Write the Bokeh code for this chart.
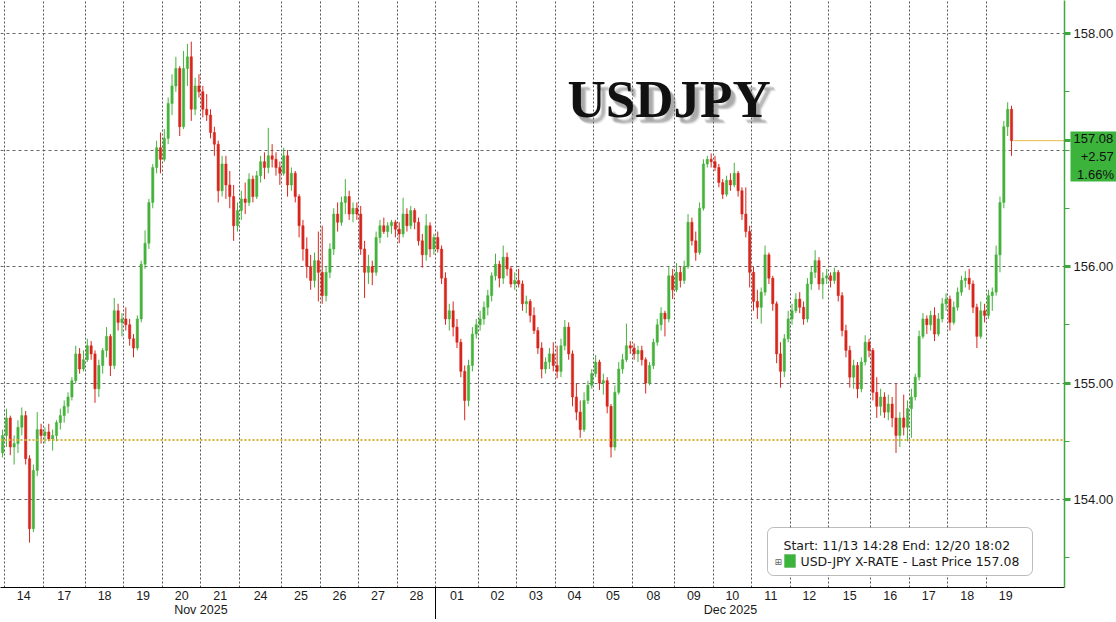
import numpy as np
from bokeh.plotting import figure
from bokeh.models import (ColumnDataSource, Range1d, FixedTicker, LinearAxis, Span,
                          Label, BoxAnnotation, PrintfTickFormatter, Grid)
from bokeh.embed import file_html
from bokeh.resources import INLINE

# ---------------- data (USD-JPY intraday bars, one row per trading day) ----------------
day_labels = ["13", "14", "17", "18", "19", "20", "21", "24", "25", "26", "27", "28",
              "01", "02", "03", "04", "05", "08", "09", "10", "11", "12", "15", "16", "17", "18", "19"]
day_month = ["Nov"] * 12 + ["Dec"] * 15
bars_in_day = [1, 10, 11, 10, 10, 10, 10, 11, 10, 10, 10, 10,
               11, 10, 10, 10, 10, 11, 10, 10, 10, 10, 11, 10, 10, 10, 7]
day_slot_bars = [10, 10, 11, 10, 10, 10, 10, 11, 10, 10, 10, 10,
                 11, 10, 10, 10, 10, 11, 10, 10, 10, 10, 11, 10, 10, 10, 10]
month_names = {"Nov": "Nov 2025", "Dec": "Dec 2025"}

opens = [
    154.40,
    154.55, 154.70, 154.45, 154.48, 154.62, 154.72, 154.35, 153.75, 154.25, 154.60,
    154.55, 154.58, 154.52, 154.55, 154.66, 154.72, 154.80, 154.88, 155.02, 155.25, 155.12,
    155.20, 155.32, 155.25, 154.95, 155.15, 155.28, 155.40, 155.15, 155.62, 155.52,
    155.55, 155.50, 155.38, 155.30, 155.55, 156.02, 156.20, 156.55, 156.85, 157.02,
    156.92, 157.10, 157.40, 157.55, 157.70, 157.20, 157.70, 157.80, 157.35, 157.55,
    157.50, 157.35, 157.30, 157.15, 157.05, 156.65, 156.88, 156.70, 156.60, 156.35,
    156.48, 156.58, 156.55, 156.75, 156.60, 156.78, 156.90, 156.85, 156.95, 156.92, 156.85,
    156.80, 156.95, 156.70, 156.80, 156.60, 156.35, 156.15, 156.00, 155.88, 156.05,
    155.95, 155.75, 155.95, 156.15, 156.45, 156.38, 156.55, 156.60, 156.45, 156.50,
    156.45, 156.15, 155.95, 156.00, 155.95, 156.25, 156.35, 156.30, 156.35, 156.38,
    156.32, 156.28, 156.45, 156.35, 156.48, 156.38, 156.22, 156.10, 156.35, 156.15,
    156.25, 156.15, 155.90, 155.55, 155.62, 155.48, 155.35, 155.10, 154.85, 155.15, 155.42,
    155.50, 155.55, 155.65, 155.75, 155.92, 156.02, 155.90, 156.08, 155.98, 155.85,
    155.88, 155.85, 155.68, 155.70, 155.58, 155.45, 155.30, 155.12, 155.18, 155.25,
    155.15, 155.10, 155.32, 155.48, 155.25, 154.88, 154.75, 154.60, 154.85, 154.98,
    155.08, 155.18, 155.00, 155.02, 154.80, 154.45, 154.92, 155.12, 155.20, 155.32,
    155.30, 155.25, 155.28, 155.20, 155.00, 155.15, 155.35, 155.50, 155.60, 155.55, 155.92,
    155.80, 155.95, 155.88, 156.00, 156.38, 156.22, 156.12, 156.50, 156.88, 156.92,
    156.90, 156.85, 156.72, 156.62, 156.74, 156.70, 156.80, 156.65, 156.45, 156.30,
    155.95, 155.70, 155.65, 155.78, 156.10, 155.90, 155.68, 155.25, 155.10, 155.38,
    155.55, 155.62, 155.72, 155.65, 155.55, 155.85, 155.95, 156.05, 155.85, 155.90,
    155.92, 155.88, 155.95, 155.75, 155.45, 155.28, 155.05, 155.15, 154.95, 155.18, 155.35,
    155.28, 154.92, 154.80, 154.88, 154.75, 154.82, 154.70, 154.55, 154.70, 154.62,
    154.78, 154.88, 155.05, 155.40, 155.55, 155.50, 155.58, 155.42, 155.55, 155.68,
    155.72, 155.52, 155.65, 155.78, 155.88, 155.90, 155.85, 155.65, 155.40, 155.62,
    155.58, 155.75, 155.78, 156.10, 156.55, 157.20, 157.35,
]
highs = [
    154.60,
    154.78, 154.72, 154.55, 154.68, 154.79, 154.76, 154.38, 154.30, 154.75, 154.65,
    154.62, 154.65, 154.60, 154.68, 154.78, 154.85, 154.92, 155.05, 155.32, 155.30, 155.28,
    155.38, 155.36, 155.28, 155.20, 155.30, 155.48, 155.42, 155.73, 155.68, 155.60,
    155.65, 155.55, 155.42, 155.58, 156.05, 156.31, 156.58, 156.88, 157.08, 157.15,
    157.18, 157.45, 157.65, 157.80, 157.72, 157.85, 157.91, 157.93, 157.62, 157.65,
    157.55, 157.48, 157.35, 157.20, 157.08, 156.95, 156.95, 156.82, 156.70, 156.55,
    156.65, 156.72, 156.80, 156.78, 156.82, 156.95, 156.98, 157.19, 157.05, 156.98, 156.90,
    157.02, 157.00, 156.85, 156.82, 156.62, 156.40, 156.25, 156.10, 156.12, 156.30,
    156.35, 156.00, 156.20, 156.50, 156.55, 156.60, 156.75, 156.65, 156.55, 156.55,
    156.52, 156.22, 156.10, 156.05, 156.30, 156.40, 156.42, 156.38, 156.40, 156.40,
    156.38, 156.59, 156.50, 156.52, 156.50, 156.42, 156.28, 156.45, 156.38, 156.28,
    156.30, 156.18, 155.95, 155.68, 155.70, 155.55, 155.38, 155.15, 155.20, 155.48, 155.55,
    155.62, 155.70, 155.80, 155.95, 156.11, 156.05, 156.18, 156.12, 156.00, 155.95,
    155.98, 155.88, 155.75, 155.72, 155.65, 155.48, 155.35, 155.22, 155.30, 155.35,
    155.32, 155.38, 155.54, 155.52, 155.28, 155.00, 154.85, 154.92, 155.02, 155.12,
    155.24, 155.20, 155.08, 155.05, 154.82, 154.98, 155.18, 155.25, 155.51, 155.36,
    155.34, 155.32, 155.32, 155.22, 155.18, 155.38, 155.55, 155.65, 155.62, 156.00, 155.98,
    156.03, 156.00, 156.05, 156.45, 156.42, 156.30, 156.55, 156.92, 156.95, 156.97,
    156.95, 156.88, 156.75, 156.78, 156.80, 156.89, 156.82, 156.68, 156.68, 156.35,
    156.00, 155.80, 155.82, 156.18, 156.12, 155.92, 155.70, 155.35, 155.42, 155.62,
    155.68, 155.77, 155.78, 155.70, 155.90, 156.00, 156.14, 156.08, 155.95, 155.98,
    155.95, 155.99, 155.97, 155.78, 155.50, 155.32, 155.20, 155.18, 155.22, 155.41, 155.38,
    155.30, 155.05, 154.95, 154.92, 154.90, 154.88, 155.00, 154.75, 154.90, 154.85,
    154.95, 155.08, 155.45, 155.60, 155.58, 155.62, 155.65, 155.60, 155.73, 155.77,
    155.75, 155.70, 155.82, 155.92, 155.96, 155.98, 155.88, 155.68, 155.70, 155.68,
    155.80, 155.82, 156.18, 156.60, 157.25, 157.41, 157.38,
]
lows = [
    154.36,
    154.45, 154.38, 154.30, 154.40, 154.55, 154.30, 153.63, 153.72, 154.20, 154.48,
    154.48, 154.50, 154.42, 154.50, 154.60, 154.66, 154.74, 154.85, 155.00, 155.08, 155.10,
    155.18, 155.20, 154.83, 154.88, 155.08, 155.22, 155.06, 155.12, 155.45, 155.40,
    155.45, 155.32, 155.22, 155.28, 155.52, 155.98, 156.15, 156.50, 156.80, 156.80,
    156.90, 157.05, 157.30, 157.50, 157.12, 157.18, 157.55, 157.25, 157.30, 157.45,
    157.28, 157.25, 157.10, 156.95, 156.55, 156.60, 156.58, 156.50, 156.22, 156.30,
    156.40, 156.45, 156.52, 156.55, 156.58, 156.72, 156.75, 156.80, 156.85, 156.78, 156.70,
    156.78, 156.60, 156.65, 156.55, 156.25, 156.05, 155.90, 155.80, 155.82, 155.70,
    155.68, 155.70, 155.90, 156.10, 156.30, 156.35, 156.45, 156.40, 156.38, 156.40,
    156.10, 155.73, 155.85, 155.84, 155.92, 156.20, 156.28, 156.25, 156.28, 156.25,
    156.20, 156.25, 156.30, 156.32, 156.32, 156.18, 155.99, 156.05, 156.08, 156.10,
    156.12, 155.85, 155.50, 155.45, 155.40, 155.30, 155.05, 154.68, 154.80, 155.10, 155.38,
    155.45, 155.50, 155.58, 155.70, 155.88, 155.82, 155.85, 155.92, 155.82, 155.80,
    155.82, 155.62, 155.60, 155.52, 155.42, 155.25, 155.04, 155.08, 155.12, 155.10,
    155.04, 155.05, 155.28, 155.20, 154.80, 154.68, 154.53, 154.58, 154.82, 154.95,
    155.05, 154.94, 154.90, 154.74, 154.36, 154.42, 154.90, 155.08, 155.18, 155.25,
    155.20, 155.18, 155.15, 154.91, 154.98, 155.12, 155.32, 155.45, 155.40, 155.52, 155.72,
    155.78, 155.82, 155.85, 155.98, 156.18, 156.05, 156.10, 156.48, 156.85, 156.85,
    156.82, 156.68, 156.58, 156.60, 156.65, 156.68, 156.60, 156.40, 156.25, 155.82,
    155.62, 155.55, 155.51, 155.75, 155.85, 155.62, 155.17, 154.96, 155.05, 155.35,
    155.50, 155.60, 155.60, 155.50, 155.52, 155.80, 155.90, 155.80, 155.72, 155.85,
    155.82, 155.85, 155.70, 155.40, 155.22, 154.96, 154.95, 154.87, 154.92, 155.15, 155.22,
    154.85, 154.70, 154.72, 154.70, 154.68, 154.62, 154.40, 154.45, 154.55, 154.50,
    154.53, 154.85, 155.02, 155.38, 155.42, 155.45, 155.36, 155.40, 155.52, 155.62,
    155.45, 155.50, 155.62, 155.75, 155.82, 155.80, 155.60, 155.30, 155.38, 155.52,
    155.55, 155.62, 155.75, 155.95, 156.50, 157.12, 156.95,
]
closes = [
    154.55,
    154.70, 154.45, 154.48, 154.62, 154.72, 154.35, 153.75, 154.25, 154.60, 154.55,
    154.58, 154.52, 154.55, 154.66, 154.72, 154.80, 154.88, 155.02, 155.25, 155.12, 155.20,
    155.32, 155.25, 154.95, 155.15, 155.28, 155.40, 155.15, 155.62, 155.52, 155.55,
    155.50, 155.38, 155.30, 155.55, 156.02, 156.20, 156.55, 156.85, 157.02, 156.92,
    157.10, 157.40, 157.55, 157.70, 157.20, 157.70, 157.80, 157.35, 157.55, 157.50,
    157.35, 157.30, 157.15, 157.05, 156.65, 156.88, 156.70, 156.60, 156.35, 156.48,
    156.58, 156.55, 156.75, 156.60, 156.78, 156.90, 156.85, 156.95, 156.92, 156.85, 156.80,
    156.95, 156.70, 156.80, 156.60, 156.35, 156.15, 156.00, 155.88, 156.05, 155.95,
    155.75, 155.95, 156.15, 156.45, 156.38, 156.55, 156.60, 156.45, 156.50, 156.45,
    156.15, 155.95, 156.00, 155.95, 156.25, 156.35, 156.30, 156.35, 156.38, 156.32,
    156.28, 156.45, 156.35, 156.48, 156.38, 156.22, 156.10, 156.35, 156.15, 156.25,
    156.15, 155.90, 155.55, 155.62, 155.48, 155.35, 155.10, 154.85, 155.15, 155.42, 155.50,
    155.55, 155.65, 155.75, 155.92, 156.02, 155.90, 156.08, 155.98, 155.85, 155.88,
    155.85, 155.68, 155.70, 155.58, 155.45, 155.30, 155.12, 155.18, 155.25, 155.15,
    155.10, 155.32, 155.48, 155.25, 154.88, 154.75, 154.60, 154.85, 154.98, 155.08,
    155.18, 155.00, 155.02, 154.80, 154.45, 154.92, 155.12, 155.20, 155.32, 155.30,
    155.25, 155.28, 155.20, 155.00, 155.15, 155.35, 155.50, 155.60, 155.55, 155.92, 155.80,
    155.95, 155.88, 156.00, 156.38, 156.22, 156.12, 156.50, 156.88, 156.92, 156.90,
    156.85, 156.72, 156.62, 156.74, 156.70, 156.80, 156.65, 156.45, 156.30, 155.95,
    155.70, 155.65, 155.78, 156.10, 155.90, 155.68, 155.25, 155.10, 155.38, 155.55,
    155.62, 155.72, 155.65, 155.55, 155.85, 155.95, 156.05, 155.85, 155.90, 155.92,
    155.88, 155.95, 155.75, 155.45, 155.28, 155.05, 155.15, 154.95, 155.18, 155.35, 155.28,
    154.92, 154.80, 154.88, 154.75, 154.82, 154.70, 154.55, 154.70, 154.62, 154.78,
    154.88, 155.05, 155.40, 155.55, 155.50, 155.58, 155.42, 155.55, 155.68, 155.72,
    155.52, 155.65, 155.78, 155.88, 155.90, 155.85, 155.65, 155.40, 155.62, 155.58,
    155.75, 155.78, 156.10, 156.55, 157.20, 157.35, 157.08,
]
start_price = 154.51
last_price = 157.08
net_change = "+2.57"
pct_change = "1.66%"
y_major = [154, 155, 156, 158]
y_grid = [154, 155, 156, 157, 158]
y_minor = [153.5, 154.5, 155.5, 156.5, 157.0, 157.5]

assert len(opens) == len(highs) == len(lows) == len(closes) == sum(bars_in_day)

# ---------------- layout constants (pixels of the picture) ----------------
FRAME_W, FRAME_H = 1064, 587
PX_PER_BAR = 3.851
PX_PER_YEN = 116.5
X0 = 0.5 - 4 / PX_PER_BAR
X1 = X0 + FRAME_W / PX_PER_BAR
Y1 = 158 + 33 / PX_PER_YEN
Y0 = Y1 - FRAME_H / PX_PER_YEN


def px2x(px):
    return X0 + px / PX_PER_BAR


def py2y(py):
    return Y1 - py / PX_PER_YEN


UP = "#46b23c"
DOWN = "#d8261c"
AX_GREEN = "#3ea83e"
TAG_GREEN = "#3cb43c"
FONT = "Liberation Sans"

# ---------------- derived positions from the day table ----------------
starts = np.concatenate([[0], np.cumsum(bars_in_day)[:-1]])
boundaries = [float(starts[d]) - 0.5 for d in range(1, len(day_labels))]
day_centers = [float(starts[d]) + (day_slot_bars[d] - 1) / 2.0 for d in range(1, len(day_labels))]
slot_lo = [float(starts[0] + bars_in_day[0] - day_slot_bars[0]) - 0.5] + boundaries
slot_hi = boundaries + [float(starts[-1] + day_slot_bars[-1]) - 0.5]
month_ticks, month_text = [], []
for m in ["Nov", "Dec"]:
    ids = [i for i, mm in enumerate(day_month) if mm == m]
    month_ticks.append((slot_lo[ids[0]] + slot_hi[ids[-1]]) / 2.0)
    month_text.append(month_names[m])
month_bounds = [slot_lo[day_month.index("Dec")]]

o = np.array(opens); h = np.array(highs); l = np.array(lows); c = np.array(closes)
x = np.arange(len(c), dtype=float)
up = c >= o
src_up = ColumnDataSource(dict(x=x[up], o=o[up], h=h[up], l=l[up], c=c[up]))
src_dn = ColumnDataSource(dict(x=x[~up], o=o[~up], h=h[~up], l=l[~up], c=c[~up]))

p = figure(frame_width=FRAME_W, frame_height=FRAME_H,
           x_range=Range1d(X0, X1), y_range=Range1d(Y0, Y1),
           y_axis_location="right", title=None, toolbar_location=None,
           output_backend="svg", min_border=0, min_border_left=0, min_border_right=0,
           min_border_top=0, min_border_bottom=0, outline_line_color=None,
           background_fill_color="white", border_fill_color="white")

# grids
p.xgrid.visible = False
p.ygrid.visible = False
p.add_layout(Grid(dimension=0, ticker=FixedTicker(ticks=boundaries),
                  grid_line_color="#555555", grid_line_dash="2 2", grid_line_width=1))
p.add_layout(Grid(dimension=1, ticker=FixedTicker(ticks=y_grid),
                  grid_line_color="#666666", grid_line_dash="3 3", grid_line_width=1))

# start price reference line
p.add_layout(Span(location=start_price, dimension="width", line_color="#d9b23a",
                  line_dash="2 2", line_width=2))

# candles
for src, col in ((src_up, UP), (src_dn, DOWN)):
    p.segment(x0="x", y0="h", x1="x", y1="l", source=src, line_color=col, line_width=1)
    p.vbar(x="x", width=0.6, top="o", bottom="c", source=src,
           fill_color=col, line_color=col, line_width=0.5)

# last price line
p.segment(x0=[x[-1] + 0.5], x1=[X1], y0=[last_price], y1=[last_price],
          line_color="#e6b84a", line_width=1)

# y axis (right); the last price gets an unlabelled pointer tick
ay = p.yaxis[0]
ay.ticker = FixedTicker(ticks=y_major + [last_price], minor_ticks=y_minor)
ay.formatter = PrintfTickFormatter(format="%.2f")
ay.major_label_overrides = {last_price: ""}
ay.axis_line_color = AX_GREEN
ay.axis_line_width = 1.5
ay.major_tick_line_color = AX_GREEN
ay.major_tick_line_width = 3
ay.major_tick_out = 6
ay.major_tick_in = 0
ay.minor_tick_line_color = AX_GREEN
ay.minor_tick_out = 5
ay.minor_tick_in = 0
ay.major_label_standoff = 3
ay.major_label_text_font = FONT
ay.major_label_text_font_size = "13px"
ay.major_label_text_color = "#1a1a1a"

# last-price tag: a second right axis whose single thick tick is drawn back over the first axis
tag_y = py2y(156)
tag_axis = LinearAxis(ticker=FixedTicker(ticks=[tag_y]),
                      major_label_overrides={tag_y: "%.2f\n\u00a0\u00a0%s\n\u00a0%s" % (last_price, net_change, pct_change)},
                      axis_line_color=None, minor_tick_line_color=None,
                      major_tick_line_color=TAG_GREEN, major_tick_line_width=50,
                      major_tick_in=46, major_tick_out=0, major_label_standoff=-43,
                      major_label_text_font=FONT, major_label_text_font_size="13px",
                      major_label_text_color="#111111", major_label_text_line_height=1.2)
p.add_layout(tag_axis, "right")

# x axis: days (month separator drawn as a long minor tick)
ax = p.xaxis[0]
ax.ticker = FixedTicker(ticks=day_centers, minor_ticks=month_bounds)
ax.major_label_overrides = {cc: lab for cc, lab in zip(day_centers, day_labels[1:])}
ax.axis_line_color = "black"
ax.major_tick_out = 0
ax.major_tick_in = 0
ax.minor_tick_out = 36
ax.minor_tick_in = 0
ax.minor_tick_line_color = "black"
ax.major_label_standoff = -33
ax.major_label_text_font = FONT
ax.major_label_text_font_size = "12.5px"
ax.major_label_text_color = "#1a1a1a"

# x axis: months
ax2 = LinearAxis(ticker=FixedTicker(ticks=month_ticks),
                 major_label_overrides={mt: tx for mt, tx in zip(month_ticks, month_text)},
                 axis_line_color=None, major_tick_line_color=None, minor_tick_line_color=None,
                 major_tick_out=0, major_tick_in=0,
                 major_label_standoff=0, major_label_text_font=FONT,
                 major_label_text_font_size="12.5px", major_label_text_color="#1a1a1a")
p.add_layout(ax2, "below")

# title with a soft shadow (several faint offset copies)
for dx, dy in ((3, 4), (4, 5), (5, 6), (6, 7), (5, 5), (4, 6)):
    p.add_layout(Label(x=px2x(567 + dx), y=py2y(98 + dy), text="USDJPY",
                       text_font="Liberation Serif", text_font_style="bold",
                       text_font_size="53px", text_color="#6e6e6e", text_alpha=0.13,
                       text_baseline="alphabetic"))
p.add_layout(Label(x=px2x(567), y=py2y(98), text="USDJPY", text_font="Liberation Serif",
                   text_font_style="bold", text_font_size="53px", text_color="#111111",
                   text_baseline="alphabetic"))

# legend box
p.add_layout(BoxAnnotation(left=px2x(767), right=px2x(1032), top=py2y(527), bottom=py2y(575),
                           fill_color="white", fill_alpha=1, line_color="#222222",
                           line_width=1, border_radius=6))
p.add_layout(Label(x=px2x(783), y=py2y(545), text="Start: 11/13 14:28 End: 12/20 18:02",
                   text_font="DejaVu Sans", text_font_size="12.5px", text_color="#1a1a1a",
                   text_baseline="middle"))
p.add_layout(Label(x=px2x(774), y=py2y(561), text="\u229e", text_font="DejaVu Sans",
                   text_font_size="9px", text_color="#666666", text_baseline="middle"))
p.add_layout(BoxAnnotation(left=px2x(784), right=px2x(795), top=py2y(554), bottom=py2y(567),
                           fill_color=TAG_GREEN, fill_alpha=1, line_color="#2e9a2e", line_width=1))
p.add_layout(Label(x=px2x(800), y=py2y(561),
                   text="USD-JPY X-RATE - Last Price %.2f" % last_price,
                   text_font="DejaVu Sans", text_font_size="12.5px", text_color="#1a1a1a",
                   text_baseline="middle"))

open("out.html", "w").write(file_html(p, INLINE))
